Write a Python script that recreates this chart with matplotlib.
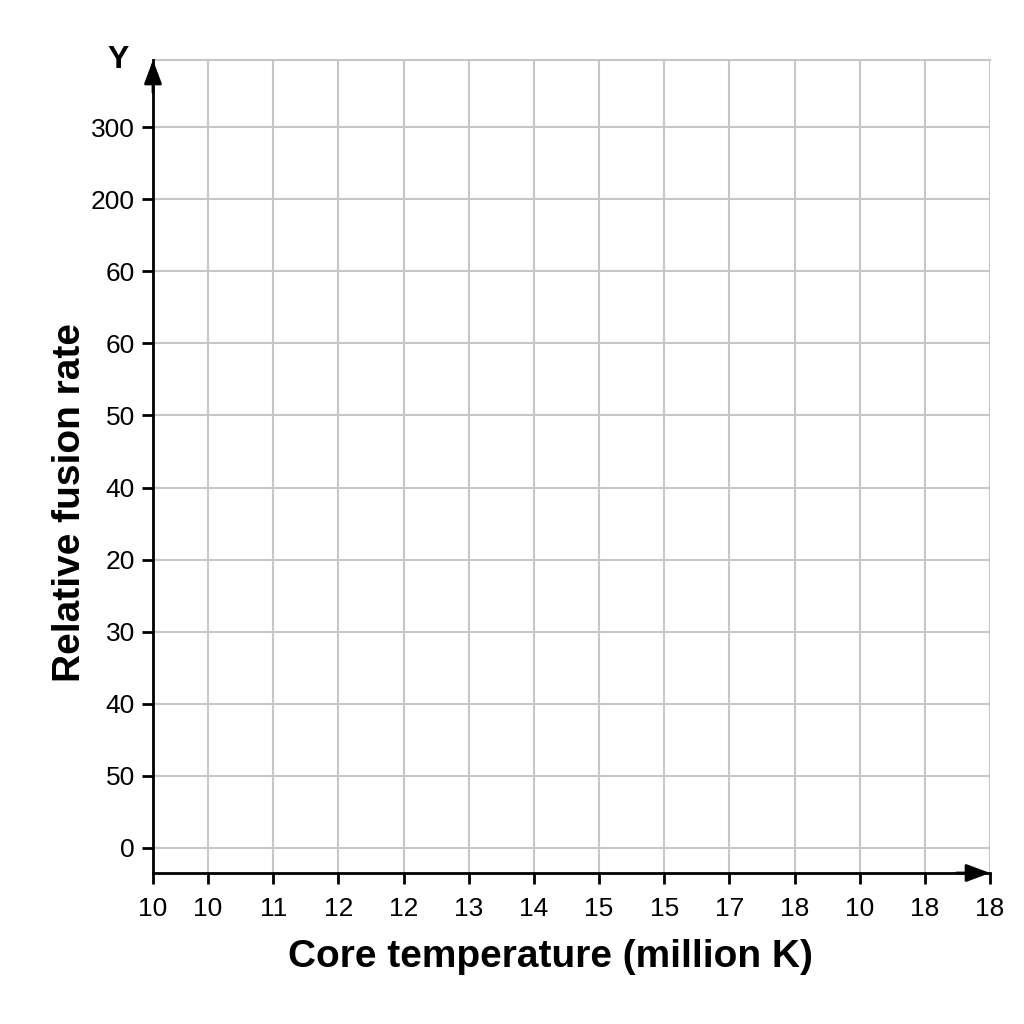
import matplotlib
matplotlib.use("Agg")
import matplotlib.pyplot as plt

plt.rcParams['font.family'] = ['Liberation Sans', 'DejaVu Sans']

x_tick_labels = ["10", "10", "11", "12", "12", "13", "14", "15", "15", "17", "18", "10", "18", "18"]
y_tick_labels = ["0", "50", "40", "30", "20", "40", "50", "60", "60", "200", "300"]
x_label = "Core temperature (million K)"
y_label = "Relative fusion rate"
y_axis_name = "Y"

first_gap = 0.844
x_pos = [0.0] + [first_gap + k for k in range(len(x_tick_labels) - 1)]
y_pos = list(range(len(y_tick_labels)))

fig = plt.figure(figsize=(10.24, 10.24), dpi=100)
ax = fig.add_axes([153/1024, 1 - 873/1024, (990-153)/1024, (873-60)/1024])

ax.set_xlim(0, x_pos[-1])
ax.set_ylim(-0.347, 10.93)

ax.set_xticks(x_pos)
ax.set_xticklabels(x_tick_labels, fontsize=19)
ax.set_yticks(y_pos)
ax.set_yticklabels(y_tick_labels, fontsize=19)

grid_c = "#c6c6c6"
for xp in x_pos[1:]:
    ax.axvline(xp, color=grid_c, lw=1.5, zorder=0)
for yp in y_pos:
    ax.axhline(yp, color=grid_c, lw=1.5, zorder=0)
ax.axhline(10.93, color=grid_c, lw=1.5, zorder=0, clip_on=False)

for s in ["top", "right"]:
    ax.spines[s].set_visible(False)
for s in ["left", "bottom"]:
    ax.spines[s].set_linewidth(2)
    ax.spines[s].set_color("black")
    ax.spines[s].set_zorder(3)

ax.tick_params(axis="both", direction="out", length=8, width=2, color="black")
ax.tick_params(axis="x", pad=9)
ax.tick_params(axis="y", pad=5)

arrow_style = "-|>,head_length=0.72,head_width=0.27"
ax.annotate("", xy=(1.0, 0), xytext=(0.96, 0), xycoords="axes fraction",
            arrowprops=dict(arrowstyle=arrow_style, lw=2,
                            color="black", mutation_scale=20,
                            shrinkA=0, shrinkB=0), annotation_clip=False)
ax.annotate("", xy=(0, 1.0), xytext=(0, 0.96), xycoords="axes fraction",
            arrowprops=dict(arrowstyle=arrow_style, lw=2,
                            color="black", mutation_scale=20,
                            shrinkA=0, shrinkB=0), annotation_clip=False)

fig.text(550/1024, 1 - 957/1024, x_label, ha="center", va="center",
         fontsize=28, fontweight="bold")
fig.text(70/1024, 1 - 502/1024, y_label, ha="center", va="center",
         rotation=90, fontsize=28, fontweight="bold")
fig.text(118/1024, 1 - 60/1024, y_axis_name, ha="center", va="center",
         fontsize=23, fontweight="bold")

fig.savefig("out.png", dpi=100)
